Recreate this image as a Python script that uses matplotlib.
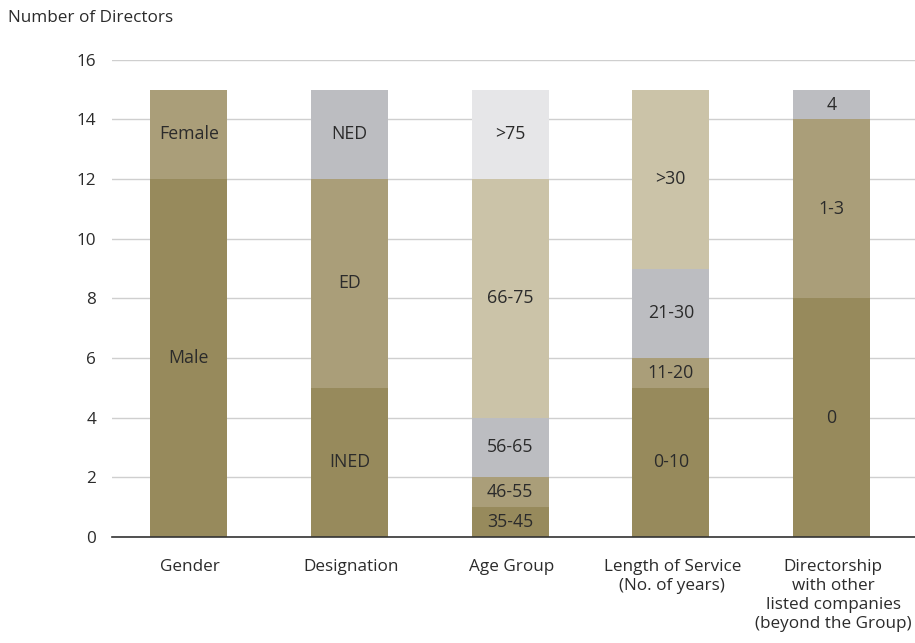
import matplotlib
matplotlib.use("Agg")
import matplotlib.pyplot as plt
import numpy as np

plt.rcParams['font.family'] = ['Open Sans', 'DejaVu Sans']

categories = ["Gender", "Designation", "Age Group", "Length of Service\n(No. of years)",
              "Directorship\nwith other\nlisted companies\n(beyond the Group)"]
segment_labels = [
    ["Male", "Female"],
    ["INED", "ED", "NED"],
    ["35-45", "46-55", "56-65", "66-75", ">75"],
    ["0-10", "11-20", "21-30", ">30"],
    ["0", "1-3", "4"],
]
segment_values = [
    [12, 3],
    [5, 7, 3],
    [1, 1, 2, 8, 3],
    [5, 1, 3, 6],
    [8, 6, 1],
]
level_colors = ["#978a5c", "#aa9e79", "#bcbdc1", "#cbc3a8", "#e6e6e8"]
yticks = [0, 2, 4, 6, 8, 10, 12, 14, 16]

fig = plt.figure(figsize=(9.15, 6.43), dpi=100)
ax = fig.add_axes([0.122, 0.165, 0.878, 0.742])

x = np.arange(len(categories))
width = 0.48
fs = 12.3
for i, (labs, vals) in enumerate(zip(segment_labels, segment_values)):
    bottom = 0
    for j, (lab, v) in enumerate(zip(labs, vals)):
        ax.bar(x[i] - 0.01, v, width=width, bottom=bottom, color=level_colors[j], zorder=2)
        ax.text(x[i] - 0.01, bottom + v / 2, lab, ha='center', va='center', fontsize=12.8,
                color='#2b2b2b', zorder=3)
        bottom += v

ax.set_xlim(-0.49, len(categories) - 0.49)
ax.set_ylim(0, 16)
ax.set_yticks(yticks)
ax.set_xticks(x)
ax.set_xticklabels(categories, fontsize=fs, color='#2b2b2b', linespacing=1.25, va='top')
ax.tick_params(axis='both', length=0, labelsize=fs, colors='#2b2b2b')
ax.tick_params(axis='y', pad=11)
ax.tick_params(axis='x', pad=16)
ax.grid(axis='y', color='#cfcfcf', linewidth=1, zorder=0)
for s in ['top', 'right', 'left']:
    ax.spines[s].set_visible(False)
ax.spines['bottom'].set_color('#333333')
ax.spines['bottom'].set_linewidth(1.2)
ax.spines['bottom'].set_zorder(4)

fig.text(8 / 915, 1 - 18 / 643, "Number of Directors", fontsize=fs, color='#2b2b2b',
         ha='left', va='center')

fig.savefig("out.png", dpi=100)
